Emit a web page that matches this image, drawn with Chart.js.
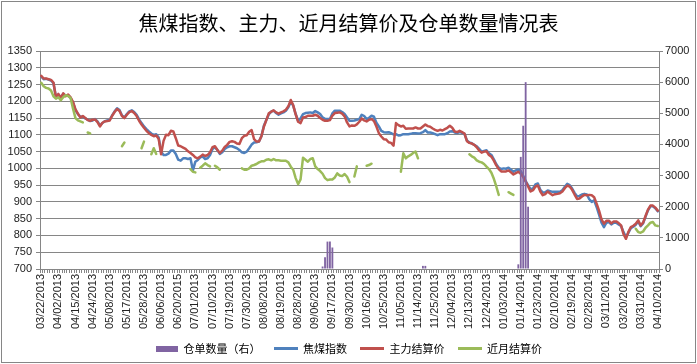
<!DOCTYPE html>
<html>
<head>
<meta charset="utf-8">
<script src="https://cdn.jsdelivr.net/npm/chart.js@4.4.0/dist/chart.umd.min.js"></script>
<style>
  html, body { margin: 0; padding: 0; background: #fff; }
  canvas { display: block; }
</style>
</head>
<body>
<canvas id="coal-chart" width="697" height="364"></canvas>
<script>
// trading days, [year, month, days]; the 06/20 label carries the source's 2015 typo
const tradingDays = [
  ['2013', '03', [22, 25, 26, 27, 28, 29]],
  ['2013', '04', [1, 2, 3, 8, 9, 10, 11, 12, 15, 16, 17, 18, 19, 22, 23, 24, 25, 26]],
  ['2013', '05', [2, 3, 6, 7, 8, 9, 10, 13, 14, 15, 16, 17, 20, 21, 22, 23, 24, 27, 28, 29, 30, 31]],
  ['2013', '06', [3, 4, 5, 6, 7, 13, 14, 17, 18, 19]],
  ['2015', '06', [20]],
  ['2013', '06', [21, 24, 25, 26, 27, 28]],
  ['2013', '07', [1, 2, 3, 4, 5, 8, 9, 10, 11, 12, 15, 16, 17, 18, 19, 22, 23, 24, 25, 26, 29, 30, 31]],
  ['2013', '08', [1, 2, 5, 6, 7, 8, 9, 12, 13, 14, 15, 16, 19, 20, 21, 22, 23, 26, 27, 28, 29, 30]],
  ['2013', '09', [2, 3, 4, 5, 6, 9, 10, 11, 12, 13, 16, 17, 18, 23, 24, 25, 26, 27, 30]],
  ['2013', '10', [8, 9, 10, 11, 14, 15, 16, 17, 18, 21, 22, 23, 24, 25, 28, 29, 30, 31]],
  ['2013', '11', [1, 4, 5, 6, 7, 8, 11, 12, 13, 14, 15, 18, 19, 20, 21, 22, 25, 26, 27, 28, 29]],
  ['2013', '12', [2, 3, 4, 5, 6, 9, 10, 11, 12, 13, 16, 17, 18, 19, 20, 23, 24, 25, 26, 27, 30, 31]],
  ['2014', '01', [2, 3, 6, 7, 8, 9, 10, 13, 14, 15, 16, 17, 20, 21, 22, 23, 24, 27, 28, 29, 30]],
  ['2014', '02', [7, 10, 11, 12, 13, 14, 17, 18, 19, 20, 21, 24, 25, 26, 27, 28]],
  ['2014', '03', [3, 4, 5, 6, 7, 10, 11, 12, 13, 14, 17, 18, 19, 20, 21, 24, 25, 26, 27, 28, 31]],
  ['2014', '04', [1, 2, 3, 4, 8, 9, 10]],
];

const categories = [];
tradingDays.forEach(([yr, mo, days]) => {
  days.forEach((d) => categories.push(mo + '/' + String(d).padStart(2, '0') + '/' + yr));
});

// 焦煤指数
const indexPrice = [
  1274, 1266, 1267, 1265, 1262, 1254, 1214,
  1220, 1212, 1222, 1217, 1218, 1210, 1196,
  1174, 1162, 1154, 1154, 1149, 1145, 1141,
  1143, 1147, 1140, 1128, 1135, 1141, 1143,
  1145, 1158, 1170, 1179, 1174, 1158, 1152,
  1162, 1170, 1173, 1168, 1160, 1146, 1135,
  1125, 1117, 1110, 1104, 1100, 1102, 1092,
  1050, 1040, 1040, 1044, 1053, 1053, 1043,
  1026, 1023, 1030, 1030, 1028, 1030, 994,
  1020, 1025, 1033, 1035, 1028, 1030, 1040,
  1058, 1063, 1055, 1043, 1048, 1058, 1063,
  1066, 1066, 1063, 1060, 1055, 1048, 1046,
  1050, 1060, 1071, 1077, 1078, 1080, 1096,
  1127, 1144, 1161, 1169, 1172, 1165, 1160,
  1164, 1167, 1172, 1182, 1199, 1187, 1162,
  1142, 1149, 1162, 1165, 1166, 1167, 1165,
  1171, 1167, 1162, 1152, 1148, 1147, 1147,
  1164, 1172, 1172, 1172, 1168, 1162, 1152,
  1142, 1142, 1143, 1145, 1147, 1160, 1156,
  1147, 1151, 1157, 1154, 1136, 1125, 1112,
  1108, 1107, 1108, 1105, 1101, 1102, 1098,
  1099, 1102, 1102, 1102, 1103, 1105, 1105,
  1104, 1105, 1108, 1114, 1107, 1107, 1105,
  1102, 1099, 1102, 1102, 1102, 1105, 1110,
  1111, 1107, 1105, 1108, 1106, 1103, 1083,
  1077, 1075, 1070, 1066, 1058, 1050, 1052,
  1054, 1045, 1040, 1027, 1012, 1002, 998,
  1000, 999, 1002, 996, 990, 994, 997,
  992, 978, 962, 950, 938, 940, 952,
  955, 936, 928, 929, 934, 932, 930,
  930, 930, 930, 935, 945, 954, 950,
  940, 927, 917, 918, 922, 924, 922,
  908, 900, 905, 885, 862, 838, 825,
  838, 840, 833, 838, 838, 833, 828,
  810, 795, 808, 822, 826, 832, 842,
  828, 836, 856, 875, 887, 887, 881,
  872,
];

// 主力结算价
const mainSettle = [
  1276, 1268, 1268, 1266, 1264, 1256, 1212,
  1222, 1210, 1224, 1215, 1220, 1212, 1198,
  1176, 1163, 1152, 1156, 1150, 1144, 1142,
  1145, 1146, 1138, 1125, 1136, 1140, 1141,
  1143, 1157, 1168, 1177, 1171, 1156, 1150,
  1160, 1168, 1171, 1165, 1156, 1142, 1131,
  1121, 1112, 1105, 1100, 1096, 1098, 1088,
  1042, 1082, 1100, 1099, 1112, 1110, 1090,
  1068, 1066, 1062, 1058, 1051, 1046, 1040,
  1033, 1030, 1035, 1041, 1037, 1040, 1048,
  1063, 1066, 1055, 1046, 1053, 1064, 1070,
  1079, 1081, 1079, 1074, 1073, 1090, 1097,
  1099, 1109, 1114, 1087, 1080, 1080, 1096,
  1124, 1144, 1164, 1169, 1173, 1167, 1163,
  1167, 1170, 1175, 1185, 1204, 1188, 1161,
  1139, 1135, 1152, 1153, 1157, 1157, 1157,
  1160, 1157, 1150, 1145, 1142, 1142, 1144,
  1157, 1165, 1166, 1167, 1163, 1155, 1137,
  1125, 1128, 1127, 1131, 1139, 1149, 1143,
  1140, 1145, 1147, 1141, 1125, 1105, 1095,
  1087, 1086, 1078, 1076, 1068, 1135, 1129,
  1125, 1127, 1118, 1119, 1119, 1119, 1122,
  1119, 1119, 1125, 1131, 1126, 1124, 1119,
  1115, 1112, 1115, 1113, 1117, 1121, 1127,
  1121, 1110, 1108, 1112, 1108, 1104, 1081,
  1076, 1074, 1070, 1063, 1053, 1047, 1050,
  1051, 1040, 1035, 1023, 1009, 998, 991,
  991, 991, 994, 988, 982, 986, 990,
  984, 974, 961, 946, 931, 935, 946,
  949, 931, 920, 923, 931, 925, 920,
  923, 924, 926, 931, 941, 949, 946,
  936, 922, 909, 910, 916, 921, 920,
  921, 920, 914, 895, 874, 848, 835,
  844, 844, 836, 842, 842, 837, 830,
  804, 790, 811, 825, 829, 835, 845,
  830, 838, 858, 877, 889, 889, 883,
  874,
];

// 近月结算价 (null = no settlement printed)
const nearSettle = [
  1255, 1245, 1240, 1238, 1232, 1215, 1208,
  1212, 1203, 1212, 1218, 1216, 1210, 1178,
  1150, 1143, 1140, 1137, null, 1107, 1104,
  null, null, null, null, null, null, null,
  null, null, null, null, null, 1066, 1077,
  null, null, null, null, null, null, 1060,
  1080, null, null, 1042, 1060, 1043, null,
  null, null, null, null, null, null, null,
  null, null, null, null, null, 998, 990,
  988, null, 1002, 1008, 1015, 1010, 1006,
  null, 1008, 1003, 996, null, null, null,
  null, null, null, null, null, 1000, 996,
  996, 1000, 1008, 1010, 1013, 1018, 1021,
  1021, 1026, 1027, 1024, 1028, 1024, 1024,
  1023, 1023, 1023, 1018, 1005, 996, 971,
  953, 967, 1032, 1026, 1020, 1028, 1030,
  1006, 998, 992, 984, 971, 965, 967,
  967, 973, 985, 979, 977, 983, 975,
  959, null, 976, 1006, null, null, null,
  1008, 1010, 1014, null, null, null, null,
  null, null, null, null, null, null, null,
  990, 1045, 1030, 1036, 1040, 1046, 1050,
  1030, null, null, null, null, null, null,
  null, null, null, null, null, null, null,
  null, null, null, null, null, null, null,
  1042, 1036, 1032, 1024, 1020, 1018, 1013,
  1005, 998, 987, 969, 946, 921, null,
  null, null, 929, 925, 921, null, null,
  null, null, null, null, null, null, null,
  null, null, null, null, null, null, null,
  null, null, null, null, null, null, null,
  null, null, null, null, null, null, null,
  null, null, null, null, null, null, null,
  null, null, null, null, null, null, null,
  null, null, null, null, null, 820, 810,
  808, 812, 823, 830, 838, 840, 830,
  828,
];

// 仓单数量（右）
const warrantDates = [
  '09/11/2013', '09/12/2013', '09/13/2013', '09/16/2013', '09/17/2013',
  '11/18/2013', '11/19/2013',
  '01/13/2014', '01/14/2014', '01/15/2014', '01/16/2014', '01/17/2014',
];
const warrantQty = [80, 380, 880, 880, 690, 100, 100, 150, 3600, 4600, 6000, 2000];

const leftTicks = { min: 700, max: 1350, step: 50 };
const rightTicks = { min: 0, max: 7000, step: 1000 };

const GRID = '#868686';
const tickFont = { family: 'Liberation Sans', size: 11 };
const cjkFont = 'Noto Sans CJK SC';

function legendMark(w, h, color) {
  const c = document.createElement('canvas');
  c.width = w;
  c.height = h;
  const g = c.getContext('2d');
  g.fillStyle = color;
  g.fillRect(0, 0, w, h);
  return c;
}

const marks = [
  legendMark(22, 6, '#8064A2'),
  legendMark(24, 3, '#4F81BD'),
  legendMark(24, 3, '#C0504D'),
  legendMark(24, 3, '#9BBB59'),
];

const framePlugin = {
  id: 'frame',
  beforeDraw(chart) {
    const c = chart.ctx;
    c.save();
    c.fillStyle = '#fff';
    c.fillRect(0, 0, chart.width, chart.height);
    c.restore();
  },
  afterDraw(chart) {
    const c = chart.ctx;
    c.save();
    c.strokeStyle = GRID;
    c.lineWidth = 1;
    c.strokeRect(1.5, 1.5, chart.width - 3, chart.height - 3);
    c.restore();
  },
};

const lineStyle = {
  type: 'line',
  yAxisID: 'y',
  borderWidth: 2.5,
  pointRadius: 0,
  tension: 0,
  fill: false,
  spanGaps: false,
  borderJoinStyle: 'round',
  borderCapStyle: 'round',
};

const plainNumber = (value) => String(value);

const ctx = document.getElementById('coal-chart').getContext('2d');
new Chart(ctx, {
  type: 'bar',
  data: {
    labels: categories,
    datasets: [
      {
        type: 'bar',
        label: '仓单数量（右）',
        data: warrantDates.map((d, i) => ({ x: d, y: warrantQty[i] })),
        yAxisID: 'y1',
        backgroundColor: '#8064A2',
        barPercentage: 0.75,
        categoryPercentage: 1,
        order: 0,
      },
      Object.assign({}, lineStyle, { label: '焦煤指数', data: indexPrice, borderColor: '#4F81BD', order: 3 }),
      Object.assign({}, lineStyle, { label: '主力结算价', data: mainSettle, borderColor: '#C0504D', order: 2 }),
      Object.assign({}, lineStyle, { label: '近月结算价', data: nearSettle, borderColor: '#9BBB59', order: 1 }),
    ],
  },
  options: {
    responsive: false,
    animation: false,
    layout: { padding: { left: 0, right: 0, top: 0, bottom: 0 } },
    plugins: {
      title: {
        display: true,
        text: '焦煤指数、主力、近月结算价及仓单数量情况表',
        color: '#000',
        font: { family: cjkFont, size: 20, weight: 'normal' },
        padding: { top: 11, bottom: 16 },
      },
      legend: {
        position: 'bottom',
        labels: {
          usePointStyle: true,
          pointStyleWidth: 23,
          padding: 14,
          color: '#000',
          font: { family: cjkFont, size: 11 },
          generateLabels(chart) {
            const items = Chart.defaults.plugins.legend.labels.generateLabels(chart);
            items.sort((a, b) => a.datasetIndex - b.datasetIndex);
            items.forEach((it) => { it.pointStyle = marks[it.datasetIndex]; });
            return items;
          },
        },
      },
      tooltip: { enabled: false },
    },
    scales: {
      x: {
        type: 'category',
        offset: true,
        ticks: {
          autoSkip: false,
          minRotation: 90,
          maxRotation: 90,
          padding: 1,
          color: '#222',
          font: tickFont,
          callback: function (value, index) {
            return index % 7 === 0 ? this.getLabelForValue(value) : '';
          },
        },
        grid: { offset: true, drawOnChartArea: false, tickLength: 4, color: GRID },
        border: { color: GRID },
        afterFit: (scale) => { scale.height = 60; },
      },
      y: {
        position: 'left',
        min: leftTicks.min,
        max: leftTicks.max,
        ticks: { stepSize: leftTicks.step, padding: 4, color: '#222', font: tickFont, callback: plainNumber },
        grid: { color: GRID, tickLength: 4 },
        border: { color: GRID },
        afterFit: (scale) => { scale.width = 40; },
      },
      y1: {
        position: 'right',
        min: rightTicks.min,
        max: rightTicks.max,
        ticks: { stepSize: rightTicks.step, padding: 2, color: '#222', font: tickFont, callback: plainNumber },
        grid: { drawOnChartArea: false, tickLength: 4, color: GRID },
        border: { color: GRID },
        afterFit: (scale) => { scale.width = 38; },
      },
    },
  },
  plugins: [framePlugin],
});
</script>
</body>
</html>
